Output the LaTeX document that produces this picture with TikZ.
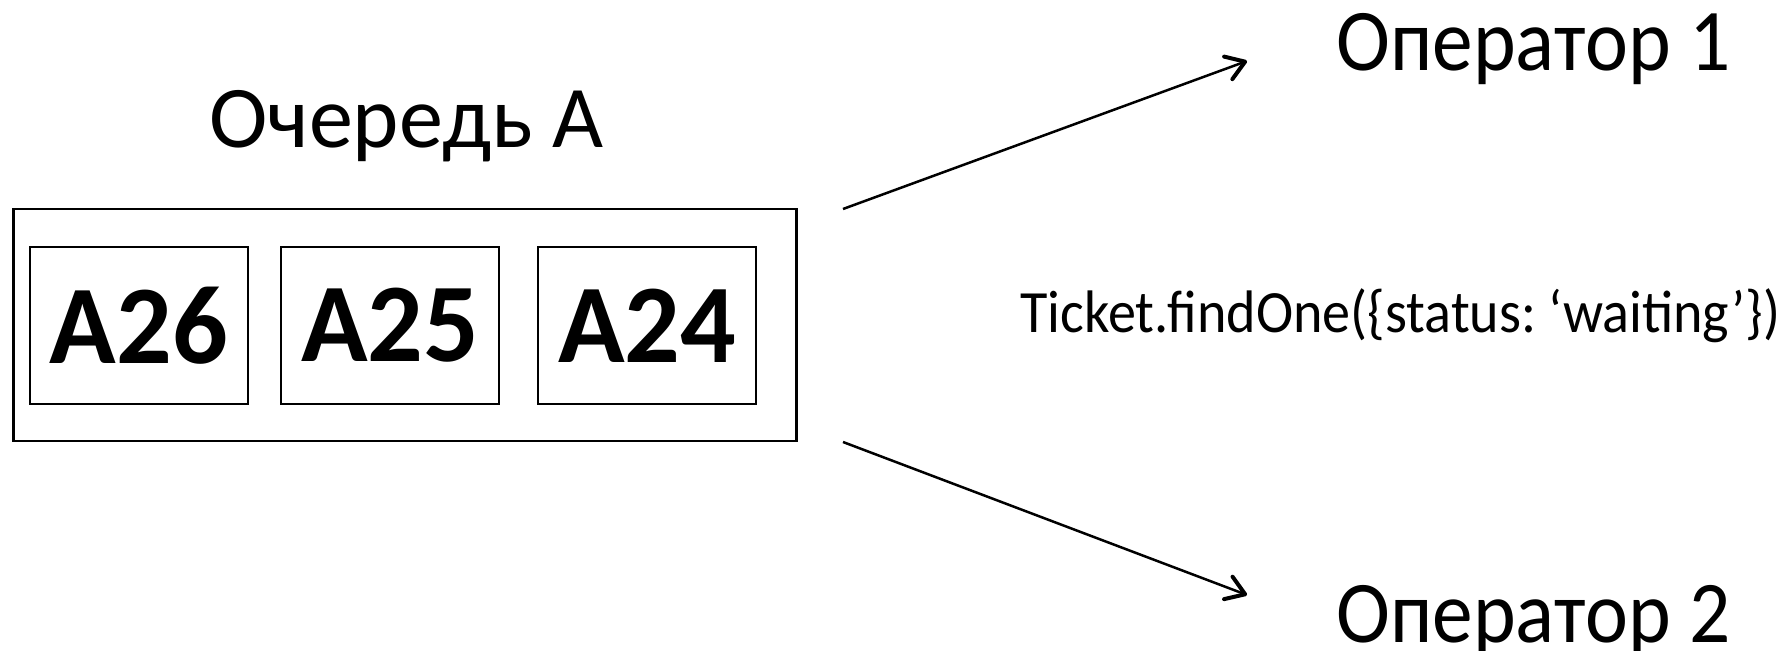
\documentclass[tikz,border=0pt]{standalone}
\usepackage{fontspec}
\setmainfont{Carlito}
\usetikzlibrary{arrows.meta}
\frenchspacing
\begin{document}
\begin{tikzpicture}[x=0.5pt,y=-0.5pt,
  ticket/.style={draw, line width=1.1pt, inner sep=0pt, minimum width=109pt, minimum height=78.5pt,
    font=\fontsize{56pt}{60pt}\selectfont\bfseries},
  queue/.style={draw, line width=1.1pt, inner sep=0pt, minimum width=391.5pt, minimum height=116pt},
  label/.style={inner sep=0pt, anchor=base west, font=\fontsize{44pt}{48pt}\selectfont},
  conn/.style={line width=1.25pt, -{Straight Barb[length=9pt,width=12pt,line width=2pt,round]}}]
\useasboundingbox (0,0) rectangle (1791,651);
\node[queue] (q) at (405,325) {};
\node[ticket] (t26) at (139,325.5) {\resizebox{89pt}{\height}{A26}};
\node[ticket] (t25) at (390,325.5) {\resizebox{89pt}{\height}{A25}};
\node[ticket] (t24) at (647,325.5) {\resizebox{89pt}{\height}{A24}};
\node[label] (title) at (209,148) {\resizebox{197pt}{\height}{Очередь А}};
\node[label] (op1) at (1336,71) {\resizebox{197pt}{\height}{Оператор 1}};
\node[label] (op2) at (1336,642) {\resizebox{197pt}{\height}{Оператор 2}};
\node[inner sep=0pt, anchor=base west, font=\fontsize{30pt}{36pt}\selectfont] (find) at (1020,333) {\resizebox{380pt}{\height}{Ticket.findOne(\{status: ‘waiting’\})}};
\coordinate (s1) at (843,209);
\coordinate (e1) at (1247,61);
\coordinate (s2) at (843,442);
\coordinate (e2) at (1247,595);
\draw[conn] (s1) -- (e1);
\draw[conn] (s2) -- (e2);
\end{tikzpicture}
\end{document}
